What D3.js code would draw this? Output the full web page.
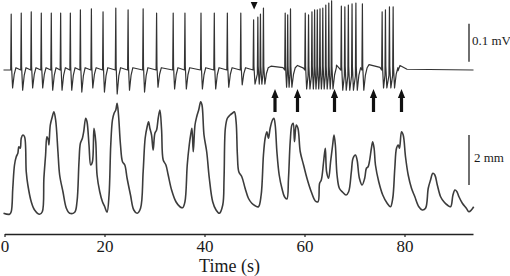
<!DOCTYPE html>
<html>
<head>
<meta charset="utf-8">
<script src="https://cdn.jsdelivr.net/npm/d3@7"></script>
<style>
  body { margin: 0; background: #fff; }
  svg { display: block; }
  text { font-family: "Liberation Serif", "Times New Roman", serif; fill: #1a1a1a; }
</style>
</head>
<body>
<div id="chart"></div>
<script>
// Electrical recording: spike times (s), spike peaks and troughs (mV)
const spikeTimes = [1.34, 3.35, 5.35, 7.36, 9.36, 11.23, 13.17, 15.18, 17.38, 19.71, 22.26, 24.72, 27.73, 30.42,
  33.74, 36.09, 39.3, 41.96, 44.57, 47.26,
  49.82, 50.67, 51.19, 51.79,
  56.14, 56.64, 57.2,
  60.15, 60.81, 61.49, 62.02, 62.56, 63.1, 63.66, 64.26, 64.86, 65.42,
  67.37, 68.07, 68.77, 69.51, 70.28, 71.58,
  75.53, 76.19, 76.99, 77.73];
const spikePeaks = [.147, .150, .153, .150, .150, .150, .150, .158, .161, .153, .163, .158, .161, .150,
  .150, .150, .150, .150, .150, .150,
  .132, .139, .147, .163,
  .150, .145, .161,
  .150, .145, .153, .158, .158, .161, .163, .171, .176, .182,
  .168, .166, .171, .174, .176, .174,
  .153, .158, .166, .166];
const spikeTroughs = [-.047, -.053, -.047, -.047, -.053, -.053, -.053, -.058, -.047, -.058, -.063, -.053, -.058, -.045,
  -.050, -.050, -.050, -.050, -.045, -.039,
  -.037, -.037, -.037, -.037,
  -.045, -.045, -.045,
  -.050, -.050, -.050, -.050, -.050, -.050, -.050, -.050, -.050, -.050,
  -.053, -.053, -.053, -.053, -.053, -.053,
  -.047, -.047, -.047, -.047];

// Baseline between bursts (s, mV)
const baseTimes = [-0.2, 52.7, 53.3, 55.7, 58.1, 58.6, 59.8, 66.4, 66.8, 72.5, 72.9, 75.1, 78.7, 79.1, 80.5, 93.8];
const baseValues = [0, -0.004, 0.010, 0.006, -0.004, 0.012, 0.005, 0.013, 0.007, -0.002, 0.014, 0.007, -0.002, 0.012, 0.002, 0];

// Markers
const stimTime = 49.93;
const arrowTimes = [54.1, 58.6, 66.0, 73.8, 79.4];

// Mechanical recording (s, mm)
const mechTrace = [[-0.2,0.07],[1.0,0.03],[1.34,0.13],[1.66,1.08],[2.0,2.0],[2.35,2.33],[2.67,2.47],[2.87,2.73],[3.15,2.67],[3.35,3.07],[3.67,3.2],[4.01,3.13],[4.35,1.73],[4.67,1.2],[5.35,0.53],[6.02,0.2],[7.02,0.03],[7.56,0.13],[7.88,1.47],[8.22,2.4],[8.48,3.13],[8.76,3.0],[8.88,2.8],[9.16,3.6],[9.56,3.93],[9.88,4.13],[10.23,3.8],[10.69,2.53],[11.03,1.6],[11.69,0.93],[12.37,0.27],[13.03,0.07],[14.04,0.11],[14.5,0.53],[14.9,2.13],[15.18,2.87],[15.58,3.07],[15.84,3.33],[16.24,3.87],[16.5,3.73],[16.9,2.8],[17.24,2.0],[17.58,2.13],[17.9,3.47],[18.25,2.93],[18.51,1.6],[19.05,0.93],[19.59,0.53],[20.05,0.33],[20.51,0.11],[20.91,0.8],[21.25,2.8],[21.59,3.8],[21.92,4.07],[22.26,4.2],[22.52,4.47],[22.8,4.0],[23.2,2.8],[23.6,2.13],[24.06,2.0],[24.52,1.47],[25.2,0.8],[25.86,0.2],[26.53,0.07],[27.21,0.27],[27.73,1.73],[28.13,3.07],[28.53,3.53],[28.81,3.73],[29.07,3.47],[29.41,3.2],[29.73,2.6],[30.08,3.27],[30.42,3.4],[30.74,3.87],[31.08,4.2],[31.42,3.4],[31.74,2.2],[32.28,2.0],[32.74,1.6],[33.42,1.0],[34.29,0.53],[35.09,0.33],[35.63,0.29],[36.09,0.53],[36.55,2.0],[36.95,2.8],[37.23,3.2],[37.49,3.47],[37.75,2.53],[38.1,3.6],[38.44,3.93],[38.84,4.2],[39.24,4.53],[39.5,4.4],[39.9,3.2],[40.44,2.53],[40.96,1.47],[41.64,0.53],[42.31,0.2],[42.97,0.07],[43.65,0.4],[43.91,1.47],[44.17,3.47],[44.57,3.87],[45.11,4.0],[45.57,4.07],[45.97,4.13],[46.32,3.73],[46.58,2.4],[46.86,1.73],[47.46,1.53],[48.12,1.07],[48.78,0.67],[49.46,0.47],[50.13,0.37],[50.79,0.33],[51.33,0.8],[51.79,2.4],[52.13,3.07],[52.47,3.33],[52.79,3.07],[53.13,3.47],[53.59,3.8],[53.87,3.87],[54.14,3.6],[54.48,2.53],[54.94,1.6],[55.48,1.07],[56.0,0.73],[56.48,0.64],[56.8,1.47],[57.14,2.93],[57.48,3.6],[57.74,3.67],[58.0,2.93],[58.35,3.6],[58.69,3.47],[59.15,2.53],[59.81,2.0],[60.49,1.47],[61.35,0.93],[62.16,0.56],[62.7,0.53],[63.02,1.27],[63.36,1.4],[63.82,2.13],[64.16,2.67],[64.42,1.73],[64.82,1.47],[65.22,2.13],[65.63,2.8],[65.9,3.2],[66.17,2.8],[66.51,1.6],[66.97,1.07],[67.63,0.91],[68.31,0.8],[68.83,0.93],[69.37,1.73],[69.71,2.27],[70.18,2.4],[70.52,2.2],[70.98,1.47],[71.52,1.2],[72.04,1.47],[72.38,1.87],[72.72,1.93],[72.98,2.13],[73.38,2.67],[73.64,2.93],[73.92,2.67],[74.19,2.0],[74.85,1.33],[75.65,0.8],[76.53,0.47],[77.19,0.33],[77.65,0.67],[78.06,1.87],[78.4,2.67],[78.74,2.8],[79.0,2.67],[79.4,3.33],[79.74,3.2],[80.2,2.33],[80.74,1.6],[81.4,1.07],[82.07,0.73],[82.87,0.33],[83.55,0.2],[84.21,0.27],[84.75,1.07],[85.21,1.4],[85.67,1.67],[86.07,1.6],[86.56,1.2],[87.22,0.73],[87.88,0.53],[88.56,0.4],[89.22,0.33],[89.69,0.8],[90.09,1.0],[90.49,0.93],[90.89,0.73],[91.57,0.47],[92.37,0.27],[92.89,0.13],[93.37,0.2],[93.84,0.33]];

const xTicks = [0, 20, 40, 60, 80];

const width = 510, height = 276;
const svg = d3.select("#chart").append("svg")
    .attr("width", width)
    .attr("height", height);

// Scales
const x = d3.scaleLinear().domain([0, 93.7]).range([4.5, 473]);
const yTop = d3.scaleLinear().domain([0, 0.1]).range([70, 32]);   // 0.1 mV = 38 px
const yMech = d3.scaleLinear().domain([0, 2]).range([215, 165]);  // 2 mm = 50 px

// Build the electrical trace: each spike is up-stroke, down-stroke, trough, recovery
let pts = [];
const windows = [];
spikeTimes.forEach((t, i) => {
    const gapPrev = i > 0 ? t - spikeTimes[i - 1] : 99;
    const gapNext = i < spikeTimes.length - 1 ? spikeTimes[i + 1] - t : 99;
    pts.push([t - 0.1, gapPrev < 1.2 ? spikeTroughs[i - 1] * 0.3 : 0]);
    pts.push([t, spikePeaks[i]]);
    pts.push([t + 0.07, 0.01]);
    pts.push([t + 0.28, spikeTroughs[i]]);
    if (gapNext >= 1.0) pts.push([t + 0.6, spikeTroughs[i] * 0.25]);
    if (gapNext >= 1.2) pts.push([t + 0.95, 0.006]);
    windows.push([t - 0.1, t + 0.95]);
});
baseTimes.forEach((t, i) => {
    if (!windows.some(w => t >= w[0] && t <= w[1])) pts.push([t, baseValues[i]]);
});
pts.sort((a, b) => a[0] - b[0]);

const lineTop = d3.line()
    .x(d => x(d[0]))
    .y(d => yTop(d[1]));

svg.append("path")
    .datum(pts)
    .attr("d", lineTop)
    .attr("fill", "none")
    .attr("stroke", "#333")
    .attr("stroke-width", 1.2)
    .attr("stroke-linejoin", "round");

// Mechanical trace
const lineMech = d3.line()
    .x(d => x(d[0]))
    .y(d => yMech(d[1]))
    .curve(d3.curveCatmullRom.alpha(0.5));

svg.append("path")
    .datum(mechTrace)
    .attr("d", lineMech)
    .attr("fill", "none")
    .attr("stroke", "#3c3c3c")
    .attr("stroke-width", 1.6)
    .attr("stroke-linejoin", "round");

// Stimulus marker (down triangle)
const sx = x(stimTime);
svg.append("path")
    .attr("d", `M${sx - 3.4},2 L${sx + 3.4},2 L${sx},9.5 Z`)
    .attr("fill", "#111");

// Up arrows
svg.selectAll(".arrow")
    .data(arrowTimes)
    .enter()
    .append("path")
    .attr("class", "arrow")
    .attr("d", t => {
        const ax = x(t);
        return `M${ax},89 L${ax + 3.6},98 L${ax + 1.6},98 L${ax + 1.6},112 L${ax - 1.6},112 L${ax - 1.6},98 L${ax - 3.6},98 Z`;
    })
    .attr("fill", "#111");

// Scale bars
svg.append("line")
    .attr("x1", 469).attr("x2", 469)
    .attr("y1", yTop(0.022)).attr("y2", yTop(0.122))
    .attr("stroke", "#222").attr("stroke-width", 1.3);
svg.append("text")
    .attr("x", 472).attr("y", 45)
    .style("font-size", "13px")
    .text("0.1 mV");

svg.append("line")
    .attr("x1", 469).attr("x2", 469)
    .attr("y1", yMech(1.2)).attr("y2", yMech(3.2))
    .attr("stroke", "#222").attr("stroke-width", 1.3);
svg.append("text")
    .attr("x", 474).attr("y", 162)
    .style("font-size", "13px")
    .text("2 mm");

// Time axis
const axis = svg.append("g")
    .attr("transform", "translate(0,234)")
    .call(d3.axisBottom(x).tickValues(xTicks).tickSize(3).tickSizeOuter(0).tickPadding(3));
axis.select(".domain").attr("stroke", "#222").attr("stroke-width", 1.4);
axis.selectAll(".tick line").attr("stroke", "#222").attr("stroke-width", 1.2);
axis.selectAll(".tick text")
    .attr("fill", "#1a1a1a")
    .style("font-family", "'Liberation Serif', 'Times New Roman', serif")
    .style("font-size", "17px");

svg.append("text")
    .attr("x", x(45))
    .attr("y", 272)
    .attr("text-anchor", "middle")
    .style("font-size", "18px")
    .text("Time (s)");
</script>
</body>
</html>
